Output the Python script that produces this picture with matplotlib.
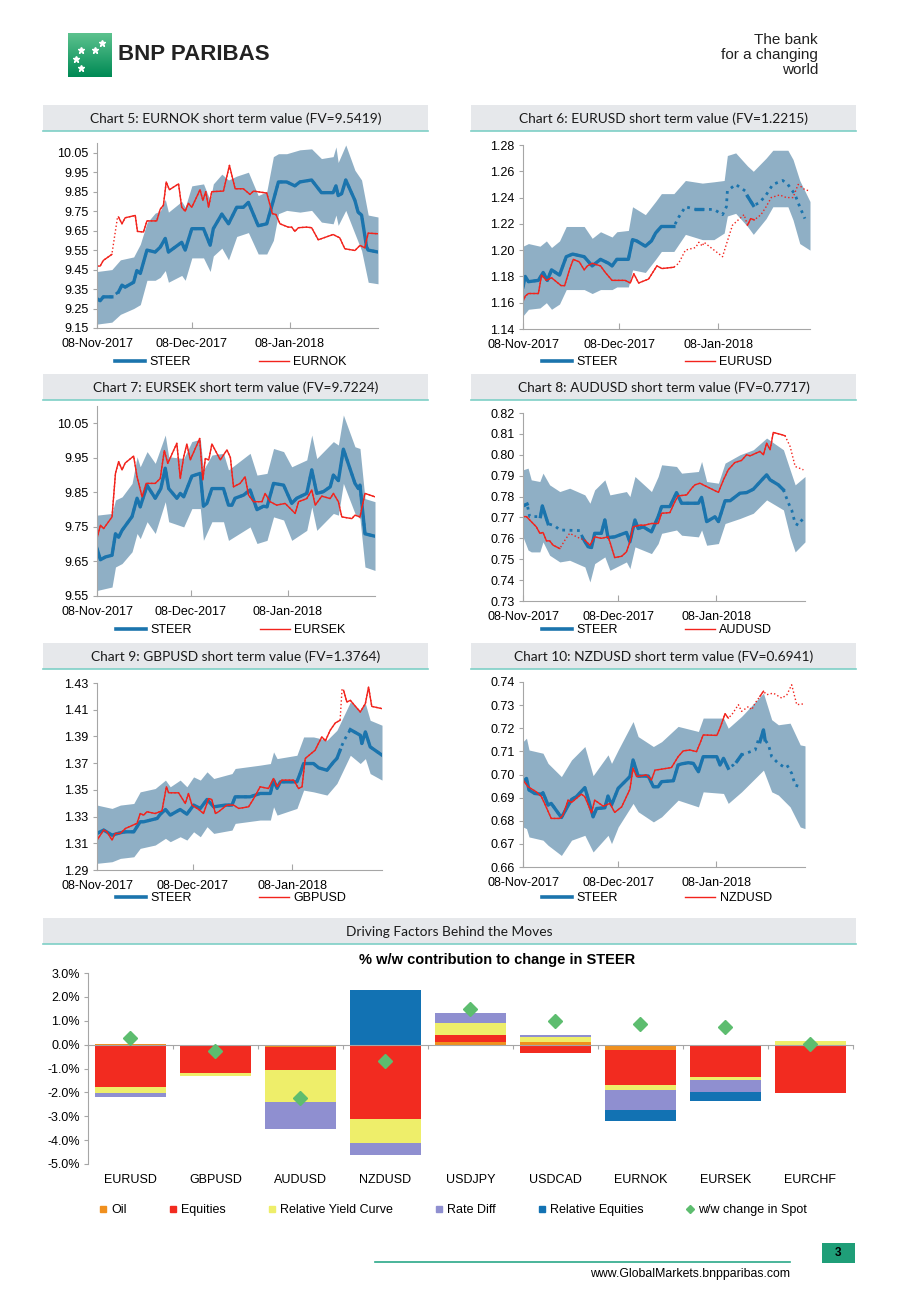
import numpy as np
import pandas as pd
import matplotlib
matplotlib.use("Agg")
import matplotlib.pyplot as plt
import matplotlib.dates as mdates
from matplotlib.patches import Rectangle
from matplotlib.lines import Line2D
from matplotlib.ticker import FormatStrFormatter
from matplotlib.colors import LinearSegmentedColormap
import matplotlib.transforms as mtransforms

plt.rcParams["font.family"] = ["Liberation Sans", "DejaVu Sans"]

START = pd.Timestamp("2017-11-08")
date_ticks = ["2017-11-08", "2017-12-08", "2018-01-08"]

# ---------------- Chart 5: EURNOK ----------------
nok_steer_days = [0, 1, 2, 4.7, 6.8, 7.9, 8.9, 11.6, 12.6, 13.7, 15.8, 18.4, 20, 21.6, 22.6, 26.8, 27.9, 30,
                  33.7, 35.8, 36.8, 39.5, 41.6, 44.2, 46.3, 47.9, 51, 53.7, 55.8, 57.4, 60, 62.6, 64.2, 67.9,
                  71, 74.7, 75.6, 76.3, 77.4, 78.7, 81.6, 82.6, 83.7, 85.3, 85.8, 88.9]
nok_steer = [9.30, 9.29, 9.31, 9.31, 9.335, 9.37, 9.36, 9.385, 9.445, 9.43, 9.55, 9.54, 9.565, 9.61, 9.54,
             9.59, 9.55, 9.66, 9.66, 9.575, 9.66, 9.735, 9.685, 9.77, 9.77, 9.795, 9.675, 9.685, 9.805, 9.90,
             9.90, 9.88, 9.90, 9.91, 9.845, 9.845, 9.88, 9.83, 9.84, 9.91, 9.805, 9.745, 9.73, 9.565, 9.55, 9.54]
nok_spot_days = [0, 1, 2, 4.7, 6.5, 6.8, 7.9, 8.9, 12.1, 12.8, 14.7, 15.8, 18.9, 20, 21, 21.9, 22.9, 25.8,
                 26.8, 27.9, 28.9, 30, 32.6, 33.5, 34.4, 35.3, 36.3, 40, 41.9, 43.7, 46.3, 48.4, 49.5, 53.7,
                 55.5, 56.6, 57.9, 60.5, 61.6, 62.6, 63.7, 66.3, 67.9, 70, 74.7, 76.8, 78.4, 81.6, 83.2, 84.7,
                 85.8, 88.9]
nok_spot = [9.468, 9.468, 9.497, 9.528, 9.72, 9.72, 9.685, 9.716, 9.728, 9.646, 9.643, 9.70, 9.70, 9.76,
            9.78, 9.90, 9.86, 9.89, 9.77, 9.75, 9.79, 9.77, 9.86, 9.805, 9.85, 9.77, 9.85, 9.853, 9.985,
            9.865, 9.865, 9.836, 9.853, 9.843, 9.737, 9.733, 9.685, 9.668, 9.668, 9.646, 9.665, 9.668,
            9.665, 9.603, 9.63, 9.613, 9.557, 9.548, 9.574, 9.562, 9.637, 9.634]
nok_band_days = [0, 4.7, 7.4, 11.6, 13.7, 15.8, 18.4, 20, 21.6, 22.6, 26.8, 27.9, 30, 33.7, 35.8, 36.8,
                 39.5, 41.6, 44.2, 47.9, 51, 53.7, 55.8, 57.4, 60, 64.2, 67.9, 71, 74.7, 75.6, 76.3, 78.7,
                 81.6, 83.7, 85.8, 88.9]
nok_band_hi = [9.44, 9.45, 9.50, 9.515, 9.58, 9.69, 9.74, 9.75, 9.81, 9.745, 9.80, 9.77, 9.88, 9.89, 9.805,
               9.89, 9.94, 9.91, 9.93, 9.95, 9.83, 9.85, 10.03, 10.045, 10.045, 10.065, 10.07, 10.02, 10.03,
               10.08, 10.00, 10.09, 9.96, 9.91, 9.73, 9.72]
nok_band_lo = [9.17, 9.18, 9.22, 9.25, 9.27, 9.395, 9.395, 9.41, 9.445, 9.385, 9.42, 9.395, 9.51, 9.51,
               9.44, 9.52, 9.56, 9.50, 9.62, 9.64, 9.53, 9.53, 9.60, 9.737, 9.754, 9.745, 9.754, 9.694,
               9.685, 9.73, 9.677, 9.754, 9.634, 9.548, 9.385, 9.377]

# ---------------- Chart 6: EURUSD ----------------
eur_steer_days = [0, 0.7, 1.7, 4.8, 6.3, 7.6, 8.9, 11.4, 13.5, 15.5, 19.1, 21.6, 24.2, 26.7, 27.8, 29.3,
                  32.9, 34.2, 35.5, 38.2, 40.1, 41.4, 43.2, 47.1, 48.6, 50.7, 53.9, 56, 59.6, 62.3, 63.5,
                  63.8, 66.4, 69.4, 70.1, 71.9, 73.8, 75.9, 78, 81.1, 82.7, 83.8, 84.8, 86.4, 88]
eur_steer = [1.172, 1.18, 1.176, 1.177, 1.183, 1.177, 1.185, 1.181, 1.195, 1.197, 1.195, 1.188, 1.193,
             1.19, 1.188, 1.193, 1.193, 1.208, 1.207, 1.203, 1.207, 1.213, 1.218, 1.218, 1.225, 1.233,
             1.231, 1.231, 1.231, 1.227, 1.233, 1.245, 1.25, 1.245, 1.241, 1.234, 1.236, 1.242, 1.25,
             1.253, 1.25, 1.246, 1.243, 1.233, 1.224]
eur_spot_days = [0, 0.7, 1.7, 4.8, 5.8, 7.3, 8.9, 11.9, 13, 14.5, 15.7, 17.6, 19.1, 20.1, 21.6, 24.2, 25.7,
                 27.8, 31.9, 33.5, 34.6, 36.1, 39.2, 41.8, 43.4, 47.1, 48.6, 50.7, 53.9, 54.9, 56, 56.5,
                 62.3, 63.3, 65.4, 69, 70.1, 71.1, 72.2, 74.3, 75.9, 77.5, 80.1, 82.2, 84.3, 85.9, 88, 89.6]
eur_spot = [1.161, 1.165, 1.167, 1.167, 1.181, 1.177, 1.179, 1.173, 1.173, 1.185, 1.193, 1.191, 1.185,
            1.188, 1.19, 1.188, 1.183, 1.177, 1.177, 1.175, 1.182, 1.175, 1.178, 1.188, 1.186, 1.187, 1.19,
            1.2, 1.202, 1.206, 1.203, 1.206, 1.195, 1.203, 1.219, 1.227, 1.219, 1.224, 1.223, 1.227, 1.233,
            1.24, 1.242, 1.24, 1.24, 1.25, 1.246, 1.245]
eur_band_days = [0, 1.7, 5.3, 7.3, 8.9, 11.4, 13.5, 19.1, 21.6, 24.2, 27.8, 29.3, 32.9, 34.2, 38.2, 41.4,
                 43.2, 47.1, 50.7, 56, 59.6, 62.8, 63.8, 66.4, 70.1, 71.9, 75.9, 78, 82.7, 84.3, 86.4, 89.6]
eur_band_hi = [1.203, 1.205, 1.203, 1.207, 1.202, 1.207, 1.218, 1.218, 1.209, 1.214, 1.21, 1.214, 1.215,
               1.233, 1.227, 1.237, 1.243, 1.243, 1.253, 1.251, 1.252, 1.253, 1.272, 1.274, 1.264, 1.26,
               1.27, 1.276, 1.276, 1.269, 1.253, 1.237]
eur_band_lo = [1.15, 1.155, 1.156, 1.16, 1.155, 1.159, 1.17, 1.17, 1.167, 1.17, 1.17, 1.172, 1.172, 1.185,
               1.183, 1.193, 1.199, 1.199, 1.212, 1.208, 1.208, 1.213, 1.226, 1.228, 1.218, 1.212, 1.224,
               1.233, 1.233, 1.223, 1.205, 1.2]

# ---------------- Chart 7: EURSEK ----------------
sek_steer_days = [0, 1.1, 2.7, 4.8, 5.9, 6.9, 8, 11.2, 12.8, 13.8, 16, 18.6, 20.4, 21.8, 22.9, 25.5, 26.6,
                  27.7, 30.3, 33, 34, 35.1, 36.7, 40.4, 42, 43.1, 44.1, 46.8, 48.9, 51.1, 53.2, 54.3, 56.4,
                  59.6, 62.2, 63.8, 67, 68.6, 70.2, 72.3, 74.5, 75.5, 77.1, 78.7, 82.4, 83.5, 84, 85.6, 88.8]
sek_steer = [9.687, 9.655, 9.663, 9.668, 9.73, 9.72, 9.74, 9.78, 9.833, 9.808, 9.87, 9.833, 9.861, 9.92,
             9.861, 9.833, 9.847, 9.837, 9.897, 9.905, 9.81, 9.818, 9.861, 9.861, 9.813, 9.813, 9.833, 9.842,
             9.857, 9.8, 9.81, 9.808, 9.876, 9.871, 9.818, 9.833, 9.847, 9.915, 9.847, 9.852, 9.866, 9.9,
             9.884, 9.975, 9.876, 9.861, 9.871, 9.73, 9.723]
sek_spot_days = [0, 1.1, 2.1, 4.8, 5.9, 6.9, 8, 9, 11.7, 12.8, 14.4, 15.7, 18.6, 20.2, 21.5, 22.6, 25.5,
                 26.6, 27.7, 28.7, 29.8, 32.8, 33.8, 34.6, 35.7, 36.7, 39.4, 41.5, 42.6, 43.6, 45.7, 47.3,
                 48.4, 50, 52.7, 53.7, 55.3, 57.4, 60.1, 63.3, 64.4, 67, 68.6, 69.7, 71.8, 74.5, 75.5, 77.1,
                 78.2, 81.4, 82.4, 84, 85.6, 88.8]
sek_spot = [9.717, 9.755, 9.745, 9.779, 9.905, 9.939, 9.915, 9.935, 9.955, 9.895, 9.837, 9.876, 9.876,
            9.89, 9.971, 9.934, 9.992, 9.89, 9.953, 9.99, 9.944, 10.006, 9.886, 9.948, 9.944, 9.99, 9.944,
            9.973, 9.951, 9.866, 9.876, 9.895, 9.842, 9.823, 9.823, 9.847, 9.823, 9.813, 9.818, 9.789,
            9.823, 9.832, 9.857, 9.813, 9.839, 9.832, 9.847, 9.823, 9.779, 9.774, 9.784, 9.779, 9.847, 9.837]
sek_band_days = [0, 4.8, 5.9, 8, 11.2, 12.8, 13.8, 16, 18.6, 21.8, 22.9, 27.7, 30.3, 33, 34, 36.7, 40.4,
                 42, 48.9, 51.1, 54.3, 56.4, 59.6, 62.2, 67, 68.6, 70.2, 75.5, 77.1, 78.7, 82.4, 84, 85.6, 88.8]
sek_band_hi = [9.784, 9.789, 9.828, 9.837, 9.876, 9.953, 9.924, 9.968, 9.934, 10.016, 9.953, 9.948, 9.997,
               10.004, 9.915, 9.958, 9.963, 9.915, 9.963, 9.9, 9.905, 9.977, 9.968, 9.924, 9.944, 10.016,
               9.948, 9.997, 9.987, 10.074, 9.982, 9.977, 9.832, 9.823]
sek_band_lo = [9.566, 9.576, 9.634, 9.644, 9.678, 9.731, 9.716, 9.765, 9.731, 9.823, 9.765, 9.75, 9.803,
               9.803, 9.711, 9.765, 9.765, 9.711, 9.75, 9.702, 9.711, 9.779, 9.77, 9.711, 9.74, 9.808, 9.74,
               9.789, 9.784, 9.876, 9.789, 9.774, 9.634, 9.624]

# ---------------- Chart 8: AUDUSD ----------------
aud_steer_days = [0, 1.3, 2.1, 4.2, 5.5, 6.1, 7.9, 10, 11.6, 17.9, 18.9, 20.5, 21.6, 22.6, 24.7, 25.8, 26.8,
                  28.9, 32.6, 33.7, 35.3, 36.3, 37.9, 40.5, 42.6, 43.7, 46.3, 48.4, 50, 52.6, 55.3, 56.3,
                  57.9, 60.5, 61.6, 63.7, 65.3, 68.4, 70.5, 72.6, 75.8, 76.8, 77.9, 80.5, 82.1, 83.7, 84.7,
                  85.8, 86.8, 87.4, 88.4]
aud_steer = [0.7755, 0.7764, 0.7704, 0.7704, 0.7704, 0.7755, 0.767, 0.766, 0.764, 0.7637, 0.760, 0.756,
             0.7556, 0.7624, 0.7624, 0.7688, 0.7604, 0.7607, 0.7628, 0.7583, 0.7688, 0.7647, 0.7655, 0.7631,
             0.7703, 0.7752, 0.7752, 0.7819, 0.7768, 0.7768, 0.7768, 0.7796, 0.768, 0.7703, 0.768, 0.778,
             0.778, 0.7816, 0.7819, 0.7835, 0.7888, 0.7904, 0.788, 0.7856, 0.7832, 0.7768, 0.7736, 0.7671,
             0.7663, 0.7679, 0.7695]
aud_spot_days = [0, 1.1, 2.1, 4.2, 5.3, 6.3, 7.4, 8.4, 9.5, 11.6, 13.2, 14.7, 17.9, 19.5, 21.1, 22.6, 24.7,
                 26.8, 27.4, 28.9, 31.1, 32.6, 33.7, 34.7, 36.8, 38.4, 40.5, 42.6, 43.7, 46.3, 47.9, 48.9,
                 51.6, 53.2, 54.2, 55.8, 56.8, 60, 61.6, 63.2, 64.7, 66.8, 68.9, 70.5, 71.6, 74.7, 75.8, 76.8,
                 77.9, 78.9, 81.6, 82.6, 84.2, 85.8, 88.4]
aud_spot = [0.7704, 0.7704, 0.7688, 0.7655, 0.7624, 0.7628, 0.7588, 0.7588, 0.7567, 0.7551, 0.7591,
            0.7624, 0.76, 0.7591, 0.7567, 0.7607, 0.76, 0.7607, 0.7583, 0.7508, 0.7514, 0.7535, 0.7583,
            0.7655, 0.7663, 0.7663, 0.7671, 0.7671, 0.772, 0.7723, 0.7776, 0.7803, 0.7808, 0.784, 0.7856,
            0.7864, 0.7856, 0.7832, 0.782, 0.788, 0.7928, 0.7963, 0.7973, 0.8, 0.7995, 0.8016, 0.8, 0.8056,
            0.8024, 0.8107, 0.8096, 0.8091, 0.804, 0.7944, 0.7928]
aud_band_days = [0, 1.6, 2.6, 5.3, 6.3, 8.4, 11.6, 14.7, 19.5, 21.1, 22.6, 25.8, 27.4, 32.6, 33.7, 35.3,
                 40.5, 42.6, 43.7, 48.4, 50, 55.3, 56.3, 57.9, 61.6, 63.7, 68.4, 72.6, 76.8, 82.1, 84.2,
                 85.8, 88.9]
aud_band_hi = [0.7928, 0.7936, 0.788, 0.7872, 0.7912, 0.7856, 0.7824, 0.784, 0.7808, 0.7768, 0.7832, 0.788,
               0.7808, 0.7824, 0.78, 0.7896, 0.7824, 0.7896, 0.7952, 0.7944, 0.7912, 0.792, 0.7968, 0.7872,
               0.7864, 0.796, 0.80, 0.8024, 0.808, 0.8024, 0.7928, 0.7856, 0.7896]
aud_band_lo = [0.7607, 0.7544, 0.7535, 0.7535, 0.7583, 0.7519, 0.7487, 0.7495, 0.7463, 0.7391, 0.7479,
               0.7511, 0.7447, 0.7487, 0.7455, 0.7559, 0.7527, 0.7575, 0.7624, 0.764, 0.7615, 0.7607, 0.764,
               0.7567, 0.7575, 0.7671, 0.7695, 0.772, 0.7784, 0.7736, 0.7607, 0.7535, 0.7583]

# ---------------- Chart 9: GBPUSD ----------------
gbp_steer_days = [0, 1, 2.1, 4.7, 7.3, 8.9, 11.5, 12.5, 13.5, 14.6, 18.8, 19.8, 21.4, 22.9, 26, 28.1, 30.2,
                  32.3, 34.4, 36.5, 40.1, 42.2, 43.2, 47.9, 51, 54.2, 55.2, 56.3, 57.3, 62.5, 63.5, 64.6,
                  67.7, 69.3, 71.9, 74, 75, 76, 76.6, 77.3, 79.2, 82.3, 82.8, 83.9, 85.4, 89.1]
gbp_steer = [1.3174, 1.3186, 1.3199, 1.3161, 1.3179, 1.3186, 1.3186, 1.3224, 1.3261, 1.3261, 1.3286,
             1.3318, 1.3353, 1.3311, 1.3353, 1.3318, 1.3386, 1.3361, 1.3428, 1.3373, 1.3386, 1.3386, 1.3448,
             1.3448, 1.3473, 1.3473, 1.3573, 1.3511, 1.356, 1.356, 1.3622, 1.3697, 1.3697, 1.3665, 1.3647,
             1.371, 1.3735, 1.3797, 1.3834, 1.3872, 1.3951, 1.3909, 1.3847, 1.3934, 1.3822, 1.376]
gbp_spot_days = [0, 2.1, 3.1, 4.7, 5.7, 7.3, 8.9, 12.5, 13.5, 14.6, 15.6, 18.2, 20.3, 21.7, 22.4, 25.5,
                 27.6, 28.6, 29.7, 31.8, 33.3, 34.9, 35.9, 37, 38, 40.6, 42.7, 44.3, 47.4, 49, 51, 53.6,
                 55.2, 56.3, 57.8, 61.5, 63, 64.1, 65.1, 68.2, 68.8, 70.3, 71.4, 72.9, 74.5, 76, 76.6, 77.1,
                 78.1, 79.2, 82.3, 83.9, 84.9, 85.9, 89.1]
gbp_spot = [1.3124, 1.3199, 1.3186, 1.3124, 1.3174, 1.3174, 1.3211, 1.3249, 1.3323, 1.3311, 1.3336,
            1.3323, 1.3343, 1.3523, 1.3478, 1.3478, 1.3398, 1.3473, 1.3386, 1.3353, 1.3323, 1.3435, 1.3428,
            1.3323, 1.3336, 1.3386, 1.3386, 1.3361, 1.3373, 1.3435, 1.3523, 1.351, 1.3585, 1.3523, 1.3573,
            1.3573, 1.351, 1.3523, 1.3735, 1.3797, 1.3827, 1.3897, 1.3867, 1.3946, 1.4001, 1.4021, 1.425,
            1.4245, 1.4158, 1.417, 1.4083, 1.4146, 1.427, 1.4125, 1.4108]
gbp_band_days = [0, 4.7, 7.3, 11.5, 13.5, 18.2, 21.4, 22.9, 26, 28.1, 30.2, 32.3, 34.4, 36.5, 42.2, 43.2,
                 51, 54.2, 55.2, 56.3, 62.5, 64.6, 67.7, 71.9, 75, 79.2, 82.3, 83.9, 85.4, 89.1]
gbp_band_hi = [1.3386, 1.3361, 1.3386, 1.3398, 1.3485, 1.351, 1.3573, 1.3523, 1.3573, 1.3523, 1.3597,
               1.3573, 1.3635, 1.3585, 1.3622, 1.366, 1.3685, 1.3697, 1.3784, 1.3734, 1.3759, 1.3896, 1.3896,
               1.3872, 1.3946, 1.4158, 1.4096, 1.4146, 1.4021, 1.3984]
gbp_band_lo = [1.295, 1.2962, 1.2987, 1.2999, 1.3062, 1.3087, 1.3137, 1.3112, 1.3149, 1.3124, 1.3186,
               1.3149, 1.3224, 1.3174, 1.3199, 1.3249, 1.3274, 1.3274, 1.3373, 1.3311, 1.3361, 1.3498,
               1.3485, 1.3461, 1.3548, 1.3759, 1.3697, 1.3734, 1.3622, 1.3573]

# ---------------- Chart 10: NZDUSD ----------------
nzd_steer_days = [0, 1.1, 1.9, 3.7, 5.8, 6.3, 7.9, 8.9, 12.1, 13.7, 15.3, 16.8, 19.5, 20.5, 22.1, 23.2, 25.8,
                  26.8, 27.9, 30, 33.7, 34.7, 36.3, 39.5, 41.1, 42.6, 43.7, 47.4, 48.9, 50, 52.1, 53.7, 55.3,
                  56.8, 58.9, 61.1, 62.1, 63.2, 64.7, 66.3, 67.4, 68.9, 73.2, 74.2, 74.7, 75.8, 76.3, 77.4,
                  78.4, 80.5, 82.1, 83.2, 84.7, 85.8, 87.4, 87.9]
nzd_steer = [0.6969, 0.6983, 0.6933, 0.6918, 0.6915, 0.6921, 0.6868, 0.6875, 0.6814, 0.6853, 0.6892,
             0.6904, 0.6943, 0.6897, 0.6817, 0.6853, 0.6856, 0.6907, 0.6868, 0.694, 0.6991, 0.7063, 0.6993,
             0.6993, 0.6947, 0.6947, 0.6969, 0.6973, 0.7041, 0.7046, 0.7051, 0.7048, 0.7012, 0.7077, 0.7077,
             0.7077, 0.7041, 0.707, 0.7027, 0.7041, 0.7056, 0.7085, 0.7106, 0.715, 0.7142, 0.7193, 0.715,
             0.7128, 0.7077, 0.7048, 0.7034, 0.7041, 0.7005, 0.6954, 0.6947, 0.694]
nzd_spot_days = [0, 1.6, 4.2, 5.8, 6.8, 8.9, 11.6, 12.6, 14.2, 15.3, 18.4, 19.5, 21.6, 22.6, 25.3, 27.4,
                 28.9, 31.1, 33.7, 34.7, 35.8, 38.9, 40.5, 41.6, 43.2, 46.8, 48.9, 50.5, 52.6, 54.7, 55.8,
                 56.8, 61.1, 62.1, 63.7, 64.7, 65.8, 67.9, 68.9, 71.1, 72.1, 73.2, 74.7, 75.8, 76.8, 78.9,
                 81.6, 83.2, 84.7, 86.3, 88.9]
nzd_spot = [0.6976, 0.6947, 0.6925, 0.6904, 0.6875, 0.681, 0.681, 0.6824, 0.6889, 0.6879, 0.6915, 0.6904,
            0.6834, 0.6889, 0.6863, 0.6875, 0.6836, 0.686, 0.6936, 0.7027, 0.6991, 0.6998, 0.6976, 0.7019,
            0.7022, 0.703, 0.7077, 0.7102, 0.7106, 0.7099, 0.7135, 0.7171, 0.7169, 0.72, 0.7263, 0.7244,
            0.7258, 0.7302, 0.7273, 0.7294, 0.728, 0.7309, 0.7338, 0.736, 0.7345, 0.7352, 0.733, 0.7345,
            0.7388, 0.7302, 0.7306]
nzd_band_days = [0, 1.1, 1.9, 6.3, 7.9, 12.1, 15.3, 19.5, 22.1, 26.8, 27.9, 30, 34.7, 36.3, 41.1, 43.7,
                 48.9, 55.3, 56.8, 63.2, 64.7, 68.9, 75.8, 78.4, 80.5, 84.2, 87.4, 88.9]
nzd_band_hi = [0.7142, 0.7157, 0.7106, 0.7092, 0.7048, 0.6991, 0.7063, 0.7121, 0.6995, 0.7085, 0.7048,
               0.7106, 0.7229, 0.7164, 0.7121, 0.7142, 0.7208, 0.7186, 0.7244, 0.7244, 0.72, 0.7251, 0.7352,
               0.7237, 0.7215, 0.7222, 0.7128, 0.7124]
nzd_band_lo = [0.6773, 0.6766, 0.673, 0.6716, 0.6694, 0.665, 0.6716, 0.6737, 0.6665, 0.6737, 0.6701,
               0.6773, 0.6875, 0.6839, 0.6795, 0.6817, 0.6889, 0.686, 0.6925, 0.6918, 0.6875, 0.6925, 0.7019,
               0.6925, 0.6911, 0.686, 0.6773, 0.6766]

# ---------------- Driving factors (% w/w) ----------------
crosses = ["EURUSD", "GBPUSD", "AUDUSD", "NZDUSD", "USDJPY", "USDCAD", "EURNOK", "EURSEK", "EURCHF"]
oil = [0.04, 0.0, -0.08, 0.0, 0.10, 0.10, -0.24, 0.0, 0.0]
equities = [-1.76, -1.17, -0.98, -3.10, 0.30, -0.36, -1.47, -1.37, -2.04]
rel_yield_curve = [-0.25, -0.14, -1.36, -1.00, 0.50, 0.22, -0.17, -0.11, 0.14]
rate_diff = [-0.17, 0.0, -1.10, -0.52, 0.43, 0.08, -0.84, -0.50, 0.0]
rel_equities = [0.0, 0.0, 0.0, 2.29, 0.0, 0.0, -0.49, -0.38, 0.0]
spot_change = [0.29, -0.28, -2.24, -0.67, 1.48, 0.99, 0.85, 0.74, 0.01]

# ---------------- styling ----------------
W, H = 920, 1302
BLUE = "#1b74ad"
RED = "#f2231c"
BAND = "#8fafc5"
HEAD_BG = "#e6e8eb"
TEAL = "#7ecfc6"
AXC = "#a6a6a6"

fig = plt.figure(figsize=(W / 100, H / 100), dpi=100)


def fx(x):
    return x / W


def fy(y):
    return 1 - y / H


def px_axes(l, t, r, b):
    return fig.add_axes([fx(l), fy(b), (r - l) / W, (b - t) / H])


def to_dates(days):
    return START + pd.to_timedelta(np.asarray(days, dtype=float), unit="D")


def title_band(l, t, r, b, text):
    fig.add_artist(Rectangle((fx(l), fy(b)), (r - l) / W, (b - t) / H, transform=fig.transFigure,
                             facecolor=HEAD_BG, edgecolor="none"))
    fig.add_artist(Line2D([fx(l), fx(r)], [fy(b), fy(b)], transform=fig.transFigure, color=TEAL, lw=1.2))
    fig.text(fx((l + r) / 2), fy((t + b) / 2 + 1), text, ha="center", va="center", fontsize=9.9,
             family=["Lato", "DejaVu Sans"], color="#1a1a1a")


def draw_series(ax, days, vals, solid, color, lw_solid, lw_dot):
    d = to_dates(days)
    ax.plot(d, vals, color=color, lw=lw_dot, ls=":")
    for a, b in solid:
        ax.plot(d[a:b + 1], vals[a:b + 1], color=color, lw=lw_solid, solid_joinstyle="round")


def panel(box, title_box, title, steer_d, steer_v, steer_solid, spot_d, spot_v, spot_solid,
          band_d, band_hi, band_lo, ylim, ystep, spot_name, legend_y):
    ax = px_axes(*box)
    title_band(*title_box, title)
    ax.fill_between(to_dates(band_d), band_lo, band_hi, color=BAND, lw=0)
    draw_series(ax, steer_d, steer_v, steer_solid, BLUE, 2.4, 2.0)
    draw_series(ax, spot_d, spot_v, spot_solid, RED, 1.0, 1.0)

    ax.set_xlim(START, to_dates([max(band_d)])[0])
    ax.set_ylim(*ylim)
    ax.set_yticks(np.arange(ylim[0], ylim[1] + 1e-9, ystep))
    ax.yaxis.set_major_formatter(FormatStrFormatter("%.2f"))
    ax.set_xticks(pd.to_datetime(date_ticks))
    ax.xaxis.set_major_formatter(mdates.DateFormatter("%d-%b-%Y"))
    for s in ["top", "right"]:
        ax.spines[s].set_visible(False)
    for s in ["left", "bottom"]:
        ax.spines[s].set_color(AXC)
    ax.tick_params(axis="y", direction="out", length=3, color=AXC, labelsize=9, pad=3)
    ax.tick_params(axis="x", direction="in", length=4, color=AXC, labelsize=9, pad=7)

    handles = [Line2D([], [], color=BLUE, lw=2.6), Line2D([], [], color=RED, lw=1.0)]
    fig.legend(handles, ["STEER", spot_name], loc="center",
               bbox_to_anchor=(fx(box[0] + 134), fy(legend_y)), ncol=2, frameon=False,
               handlelength=2.4, handletextpad=0.35, columnspacing=5.4, fontsize=9,
               borderaxespad=0, borderpad=0)
    return ax


# ---------------- header ----------------
ax_logo = px_axes(68, 33, 112, 77)
grad = np.linspace(0, 1, 50).reshape(-1, 1)
ax_logo.imshow(grad, aspect="auto", extent=[0, 1, 0, 1],
               cmap=LinearSegmentedColormap.from_list("g", ["#5cc28e", "#008a55"]))
ax_logo.plot([0.78, 0.62, 0.3, 0.18, 0.3], [0.78, 0.62, 0.62, 0.42, 0.2], ls="", marker="*",
             color="white", ms=5)
ax_logo.set_xlim(0, 1)
ax_logo.set_ylim(0, 1)
ax_logo.axis("off")
fig.text(fx(118), fy(55), "BNP PARIBAS", fontsize=16, fontweight="bold", color="#222222",
         ha="left", va="center")
fig.text(fx(818), fy(55), "The bank\nfor a changing\nworld", fontsize=11, color="#222222",
         ha="right", va="center", linespacing=1.05, multialignment="right")

# ---------------- six STEER panels ----------------
panel((97, 143, 378, 328), (43, 105, 428, 131), "Chart 5: EURNOK short term value (FV=9.5419)",
      nok_steer_days, nok_steer, [(0, 3), (4, 45)], nok_spot_days, nok_spot, [(0, 3), (5, 51)],
      nok_band_days, nok_band_hi, nok_band_lo, (9.15, 10.10), 0.1, "EURNOK", 362)
panel((523, 145, 810, 329), (471, 105, 856, 131), "Chart 6: EURUSD short term value (FV=1.2215)",
      eur_steer_days, eur_steer, [(0, 23), (26, 27), (34, 35)], eur_spot_days, eur_spot,
      [(0, 25), (36, 38)], eur_band_days, eur_band_hi, eur_band_lo, (1.14, 1.28), 0.02, "EURUSD", 362)
panel((97, 406, 375, 596), (43, 374, 428, 400), "Chart 7: EURSEK short term value (FV=9.7224)",
      sek_steer_days, sek_steer, [(0, 48)], sek_spot_days, sek_spot, [(0, 53)],
      sek_band_days, sek_band_hi, sek_band_lo, (9.55, 10.10), 0.1, "EURSEK", 630)
panel((523, 413, 805, 601), (471, 374, 856, 400), "Chart 8: AUDUSD short term value (FV=0.7717)",
      aud_steer_days, aud_steer, [(0, 1), (4, 6), (10, 44)], aud_spot_days, aud_spot,
      [(0, 9), (13, 51)], aud_band_days, aud_band_hi, aud_band_lo, (0.73, 0.82), 0.01, "AUDUSD", 630)
panel((97, 683, 382, 870), (43, 643, 428, 669), "Chart 9: GBPUSD short term value (FV=1.3764)",
      gbp_steer_days, gbp_steer, [(0, 37), (40, 45)], gbp_spot_days, gbp_spot, [(0, 45), (47, 54)],
      gbp_band_days, gbp_band_hi, gbp_band_lo, (1.29, 1.43), 0.02, "GBPUSD", 898)
panel((523, 682, 805, 867), (471, 643, 856, 669), "Chart 10: NZDUSD short term value (FV=0.6941)",
      nzd_steer_days, nzd_steer, [(0, 38), (40, 41), (44, 46)], nzd_spot_days, nzd_spot,
      [(0, 35), (42, 43)], nzd_band_days, nzd_band_hi, nzd_band_lo, (0.66, 0.74), 0.01, "NZDUSD", 898)

# ---------------- driving factors bar chart ----------------
title_band(43, 918, 856, 944, "Driving Factors Behind the Moves")
axb = px_axes(88, 973, 853, 1164)
x = np.arange(len(crosses))
factors = [("Oil", oil, "#f0901e"), ("Equities", equities, "#f22b20"),
           ("Relative Yield Curve", rel_yield_curve, "#eeee6a"), ("Rate Diff", rate_diff, "#8f8fd0"),
           ("Relative Equities", rel_equities, "#1272b3")]
pos_base = np.zeros(len(crosses))
neg_base = np.zeros(len(crosses))
handles = []
for name, vals, col in factors:
    v = np.asarray(vals, dtype=float)
    bottom = np.where(v >= 0, pos_base, neg_base)
    axb.bar(x, v, width=0.83, bottom=bottom, color=col, lw=0)
    pos_base += np.clip(v, 0, None)
    neg_base += np.clip(v, None, 0)
    handles.append(Line2D([], [], ls="", marker="s", ms=4.5, color=col))
axb.plot(x, spot_change, ls="", marker="D", ms=7, color="#5dbd6f", zorder=5)
handles.append(Line2D([], [], ls="", marker="D", ms=4, color="#5dbd6f"))

axb.set_xlim(-0.5, len(crosses) - 0.5)
axb.set_ylim(-5, 3)
axb.set_yticks(np.arange(-5, 3.01, 1))
axb.yaxis.set_major_formatter(FormatStrFormatter("%.1f%%"))
axb.spines["top"].set_visible(False)
axb.spines["right"].set_visible(False)
axb.spines["left"].set_color(AXC)
axb.spines["bottom"].set_color(AXC)
axb.spines["bottom"].set_position(("data", 0))
axb.set_xticks(np.arange(-0.5, len(crosses), 1))
axb.tick_params(axis="x", labelbottom=False, direction="out", length=3, color=AXC)
axb.tick_params(axis="y", direction="out", length=3, color=AXC, labelsize=9, pad=3)
trans = mtransforms.blended_transform_factory(axb.transData, axb.transAxes)
for i, c in enumerate(crosses):
    axb.text(i, -0.085, c, transform=trans, ha="center", va="center", fontsize=9)
fig.text(fx(497), fy(960), "% w/w contribution to change in STEER", ha="center", va="center",
         fontsize=10.5, fontweight="bold")
fig.legend(handles, [f[0] for f in factors] + ["w/w change in Spot"], loc="center",
           bbox_to_anchor=(fx(453), fy(1210)), ncol=6, frameon=False, fontsize=9,
           handlelength=0.7, handletextpad=0.3, columnspacing=3.35, borderaxespad=0, borderpad=0)

# ---------------- footer ----------------
fig.add_artist(Line2D([fx(375), fx(790)], [fy(1262), fy(1262)], transform=fig.transFigure,
                      color="#2aa889", lw=1.2))
fig.text(fx(790), fy(1274), "www.GlobalMarkets.bnpparibas.com", ha="right", va="center", fontsize=8.8)
fig.add_artist(Rectangle((fx(822), fy(1263)), 33 / W, 20 / H, transform=fig.transFigure,
                         facecolor="#1f9e78", edgecolor="none"))
fig.text(fx(838.5), fy(1253), "3", ha="center", va="center", fontsize=8.5, fontweight="bold")

fig.savefig("out.png", dpi=100)
